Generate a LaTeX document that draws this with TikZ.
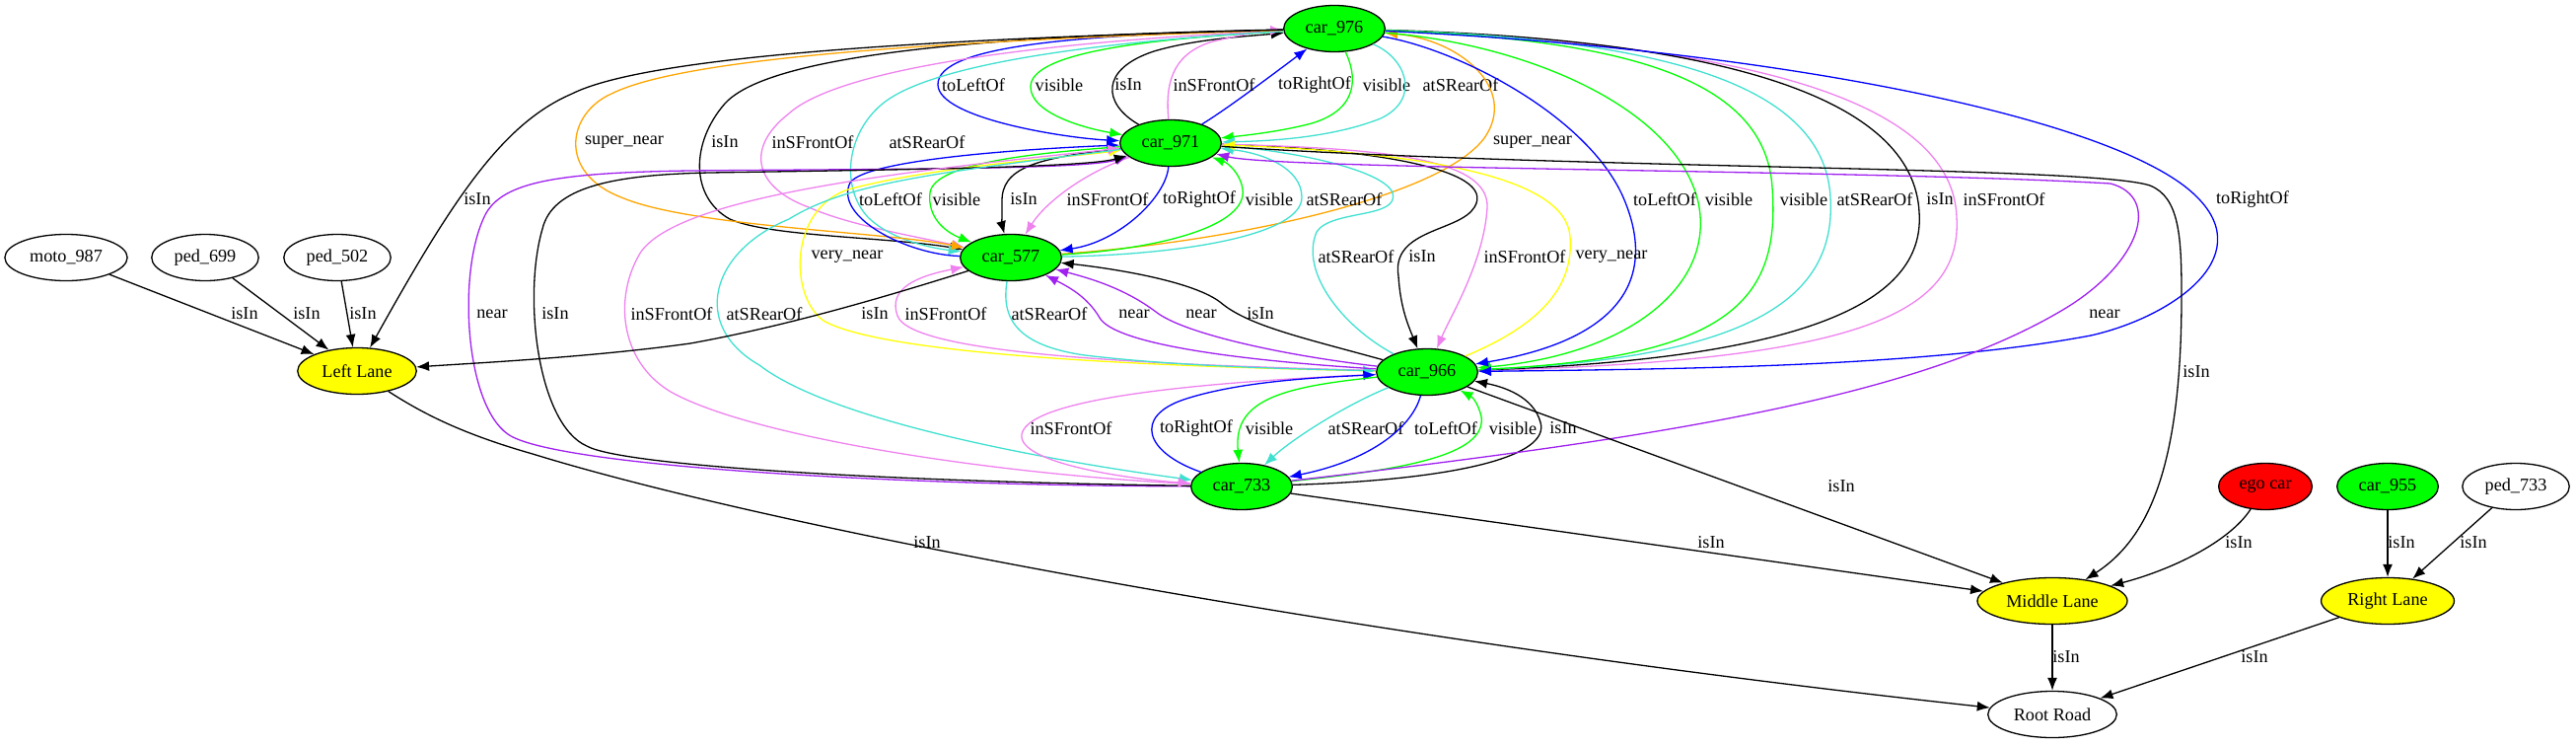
\documentclass[tikz,border=0pt]{standalone}
\usepackage{fontspec}
\setmainfont{Liberation Serif}
\usetikzlibrary{shapes.geometric, arrows.meta}
\definecolor{gvgreen}{HTML}{00FF00}
\definecolor{gvyellow}{HTML}{FFFF00}
\definecolor{gvred}{HTML}{FF0000}
\definecolor{gvblue}{HTML}{0000FF}
\definecolor{gvviolet}{HTML}{EE82EE}
\definecolor{gvturq}{HTML}{40E0D0}
\definecolor{gvorange}{HTML}{FFA500}
\definecolor{gvpurple}{HTML}{A020F0}
\tikzset{
  obj/.style={ellipse, draw, line width=1.3pt, inner xsep=7pt, inner ysep=2pt, minimum height=47pt},
  car/.style={obj, fill=gvgreen},
  lane/.style={obj, fill=gvyellow},
  rel/.style={draw=#1, line width=1.3pt, -{Latex[length=13pt,width=10pt]}},
  rel/.default=black,
  lbl/.style={inner sep=0pt}
}

\begin{document}
\begin{tikzpicture}[x=1pt, y=-1pt, font=\fontsize{18.2}{20}\selectfont]
\useasboundingbox (0,0) rectangle (2612,755);
% objects
\node[obj] (moto) at (67,261) {moto\_987};
\node[obj] (p699) at (208,261) {ped\_699};
\node[obj] (p502) at (342,261) {ped\_502};
\node[lane] (left) at (362,376) {Left Lane};
\node[car] (c976) at (1353,29) {car\_976};
\node[car] (c971) at (1187,145) {car\_971};
\node[car] (c577) at (1025,261) {car\_577};
\node[car] (c966) at (1447,377) {car\_966};
\node[car] (c733) at (1259,493) {car\_733};
\node[lane] (mid) at (2081,609) {Middle Lane};
\node[obj] (root) at (2081,724) {Root Road};
\node[obj, fill=gvred] (ego) at (2297,493) {ego car};
\node[car] (c955) at (2421,493) {car\_955};
\node[obj] (p733) at (2551,493) {ped\_733};
\node[lane] (right) at (2421,609) {Right Lane};

% car_976 -- car_971
\draw[rel=gvblue] (c976) .. controls (1100,35) and (950,45) .. (951,86) .. controls (952,120) and (1080,140) .. (c971) node[lbl] (t1) at (987,86) {toLeftOf};
\draw[rel=gvgreen] (c976) .. controls (1150,40) and (1045,55) .. (1045,88) .. controls (1045,115) and (1100,130) .. (c971) node[lbl] (t2) at (1074,86) {visible};
\draw[rel] (c971) .. controls (1118,105) and (1115,70) .. (1170,52) .. controls (1210,40) and (1260,37) .. (c976) node[lbl] (t3) at (1144,86) {isIn};
\draw[rel=gvblue] (c971) .. controls (1245,110) and (1295,72) .. (c976) node[lbl] (t5) at (1333,86) {toRightOf};
\draw[rel=gvviolet] (c971) .. controls (1182,90) and (1185,55) .. (1230,42) .. controls (1260,35) and (1280,31) .. (c976) node[lbl] (t4) at (1231,86) {inSFrontOf};
\draw[rel=gvgreen] (c976) .. controls (1375,75) and (1380,110) .. (1330,125) .. controls (1300,133) and (1265,137) .. (c971) node[lbl] (t6) at (1406,86) {visible};
\draw[rel=gvturq] (c976) .. controls (1425,58) and (1442,100) .. (1400,120) .. controls (1350,140) and (1285,143) .. (c971) node[lbl] (t7) at (1481,86) {atSRearOf};

% car_976 -- car_577, left side
\draw[rel] (c976) .. controls (1000,36) and (780,55) .. (735,105) .. controls (700,145) and (700,200) .. (740,222) .. controls (780,240) and (900,240) .. (c577) node[lbl] (t9) at (735,144) {isIn};
\draw[rel=gvviolet] (c976) .. controls (1050,42) and (850,70) .. (800,115) .. controls (755,150) and (765,190) .. (820,210) .. controls (860,228) and (930,240) .. (c577) node[lbl] (t10) at (824,144) {inSFrontOf};
\draw[rel=gvturq] (c976) .. controls (1150,40) and (950,60) .. (895,105) .. controls (858,135) and (852,190) .. (880,220) .. controls (905,245) and (950,252) .. (c577) node[lbl] (t11) at (940,144) {atSRearOf};
\draw[rel=gvorange] (c976) .. controls (1000,40) and (700,55) .. (620,95) .. controls (575,115) and (565,175) .. (630,200) .. controls (700,230) and (900,235) .. (c577) node[lbl] (t8) at (633,144) {super\_near};
\draw[rel=gvorange] (c577) .. controls (1250,245) and (1460,200) .. (1505,140) .. controls (1540,90) and (1480,40) .. (c976) node[lbl] (t12) at (1554,144) {super\_near};

% car_976 -- car_966, right side
\draw[rel=gvviolet] (c976) .. controls (1800,45) and (1980,110) .. (1984,220) .. controls (1990,320) and (1880,365) .. (c966) node[lbl] (t18) at (2032,202) {inSFrontOf};
\draw[rel] (c976) .. controls (1750,40) and (1940,100) .. (1946,215) .. controls (1952,300) and (1850,362) .. (c966) node[lbl] (t17) at (1967,202) {isIn};
\draw[rel=gvturq] (c976) .. controls (1700,40) and (1850,90) .. (1856,200) .. controls (1862,300) and (1780,362) .. (c966) node[lbl] (t16) at (1901,202) {atSRearOf};
\draw[rel=gvgreen] (c976) .. controls (1650,40) and (1790,80) .. (1797,190) .. controls (1805,300) and (1760,362) .. (c966) node[lbl] (t15) at (1829,202) {visible};
\draw[rel=gvgreen] (c976) .. controls (1550,45) and (1700,110) .. (1722,205) .. controls (1740,290) and (1650,360) .. (c966) node[lbl] (t14) at (1753,202) {visible};
\draw[rel=gvblue] (c976) .. controls (1480,50) and (1615,120) .. (1648,205) .. controls (1680,285) and (1640,345) .. (c966) node[lbl] (t13) at (1688,202) {toLeftOf};
\draw[rel=gvblue] (c976) .. controls (1800,50) and (2150,120) .. (2228,200) .. controls (2290,262) and (2200,322) .. (2120,340) .. controls (1950,372) and (1700,374) .. (c966) node[lbl] (t19) at (2284,202) {toRightOf};

% car_971 -- car_577
\draw[rel=gvblue] (c577) .. controls (920,258) and (845,220) .. (862,185) .. controls (880,160) and (1060,150) .. (c971) node[lbl] (t20) at (903,202) {toLeftOf};
\draw[rel=gvgreen] (c971) .. controls (1050,155) and (948,165) .. (943,195) .. controls (940,220) and (958,235) .. (c577) node[lbl] (t21) at (970,202) {visible};
\draw[rel] (c971) .. controls (1050,160) and (1015,170) .. (1016,205) .. controls (1016,220) and (1016,228) .. (c577) node[lbl] (t22) at (1038,202) {isIn};
\draw[rel=gvviolet] (c971) .. controls (1100,175) and (1060,205) .. (c577) node[lbl] (t23) at (1123,202) {inSFrontOf};
\draw[rel=gvblue] (c971) .. controls (1182,200) and (1135,245) .. (c577) node[lbl] (t24) at (1216,202) {toRightOf};
\draw[rel=gvgreen] (c577) .. controls (1180,252) and (1265,228) .. (1260,192) .. controls (1258,176) and (1245,165) .. (c971) node[lbl] (t25) at (1287,202) {visible};
\draw[rel=gvturq] (c577) .. controls (1200,258) and (1320,238) .. (1320,200) .. controls (1320,170) and (1280,155) .. (c971) node[lbl] (t26) at (1363,202) {atSRearOf};

% car_971 -- car_966
\draw[rel=gvyellow] (c966) .. controls (1200,372) and (900,362) .. (835,325) .. controls (800,300) and (800,212) .. (860,192) .. controls (950,168) and (1080,160) .. (c971) node[lbl] (t27) at (859,260) {very\_near};
\draw[rel=gvturq] (c966) .. controls (1360,330) and (1318,275) .. (1335,235) .. controls (1350,212) and (1420,222) .. (1412,195) .. controls (1400,170) and (1300,152) .. (c971) node[lbl] (t28) at (1375,260) {atSRearOf};
\draw[rel] (c971) .. controls (1380,150) and (1520,170) .. (1495,210) .. controls (1480,235) and (1410,232) .. (1418,280) .. controls (1420,312) and (1428,330) .. (c966) node[lbl] (t29) at (1442,260) {isIn};
\draw[rel=gvviolet] (c971) .. controls (1400,150) and (1510,160) .. (1508,210) .. controls (1505,265) and (1470,322) .. (c966) node[lbl] (t30) at (1546,260) {inSFrontOf};
\draw[rel=gvyellow] (c966) .. controls (1560,330) and (1596,292) .. (1592,240) .. controls (1588,180) and (1450,155) .. (c971) node[lbl] (t31) at (1634,260) {very\_near};

% car_577 -- car_966
\draw[rel=gvviolet] (c966) .. controls (1200,370) and (925,362) .. (910,320) .. controls (900,292) and (930,280) .. (c577) node[lbl] (t32) at (959,318) {inSFrontOf};
\draw[rel=gvturq] (c577) .. controls (1015,322) and (1030,350) .. (1100,360) .. controls (1200,372) and (1320,374) .. (c966) node[lbl] (t33) at (1064,318) {atSRearOf};
\draw[rel=gvpurple] (c966) .. controls (1250,365) and (1130,348) .. (1115,322) .. controls (1102,300) and (1082,290) .. (c577) node[lbl] (t34) at (1150,318) {near};
\draw[rel=gvpurple] (c966) .. controls (1300,360) and (1200,338) .. (1172,316) .. controls (1140,292) and (1105,282) .. (c577) node[lbl] (t35) at (1218,318) {near};
\draw[rel] (c966) .. controls (1320,342) and (1265,330) .. (1237,306) .. controls (1205,282) and (1110,270) .. (c577) node[lbl] (t36) at (1278,318) {isIn};

% car_733 -- car_971, round the left
\draw[rel=gvpurple] (c733) .. controls (900,492) and (560,472) .. (515,440) .. controls (472,410) and (464,280) .. (490,222) .. controls (505,185) and (560,175) .. (700,173) .. controls (900,171) and (1100,172) .. (c971) node[lbl] (t37) at (499,318) {near};
\draw[rel] (c733) .. controls (900,488) and (630,472) .. (595,452) .. controls (545,430) and (530,300) .. (550,232) .. controls (560,190) and (620,177) .. (720,175) .. controls (900,172) and (1100,170) .. (c971) node[lbl] (t38) at (563,318) {isIn};
\draw[rel=gvviolet] (c733) .. controls (1000,480) and (760,442) .. (680,397) .. controls (628,366) and (622,300) .. (650,255) .. controls (690,200) and (900,175) .. (c971) node[lbl] (t39) at (681,318) {inSFrontOf};
\draw[rel=gvturq] (c971) .. controls (950,175) and (860,185) .. (800,222) .. controls (720,255) and (700,330) .. (770,370) .. controls (850,432) and (1100,472) .. (c733) node[lbl] (t40) at (775,318) {atSRearOf};
\draw[rel=gvviolet] (c966) .. controls (1250,386) and (1044,400) .. (1036,440) .. controls (1031,470) and (1150,486) .. (c733) node[lbl] (t41) at (1086,434) {inSFrontOf};

% car_966 -- car_733
\draw[rel=gvblue] (c733) .. controls (1160,458) and (1150,422) .. (1200,405) .. controls (1260,385) and (1350,382) .. (c966) node[lbl] (t42) at (1213,434) {toRightOf};
\draw[rel=gvgreen] (c966) .. controls (1300,392) and (1250,405) .. (c733) node[lbl] (t43) at (1287,434) {visible};
\draw[rel=gvturq] (c966) .. controls (1365,410) and (1310,445) .. (c733) node[lbl] (t44) at (1385,434) {atSRearOf};
\draw[rel=gvblue] (c966) .. controls (1432,432) and (1392,466) .. (c733) node[lbl] (t45) at (1466,434) {toLeftOf};
\draw[rel=gvgreen] (c733) .. controls (1420,476) and (1508,462) .. (1502,422) .. controls (1499,410) and (1494,403) .. (c966) node[lbl] (t46) at (1534,434) {visible};
\draw[rel] (c733) .. controls (1480,486) and (1572,462) .. (1562,428) .. controls (1555,402) and (1525,392) .. (c966) node[lbl] (t47) at (1585,434) {isIn};
\draw[rel=gvpurple] (c733) .. controls (1700,442) and (1950,400) .. (2095,312) .. controls (2170,266) and (2192,200) .. (2140,186) .. controls (1900,172) and (1300,172) .. (c971) node[lbl] (t48) at (2134,318) {near};

% lanes and road
\draw[rel] (c971) .. controls (1600,172) and (2120,168) .. (2180,188) .. controls (2210,200) and (2212,240) .. (2212,300) .. controls (2212,470) and (2180,545) .. (mid) node[lbl] (t49) at (2227,377) {isIn};
\draw[rel] (moto) -- (left) node[lbl] (t50) at (248,318) {isIn};
\draw[rel] (p699) -- (left) node[lbl] (t51) at (311,318) {isIn};
\draw[rel] (p502) -- (left) node[lbl] (t52) at (368,318) {isIn};
\draw[rel] (c976) .. controls (900,40) and (650,60) .. (580,95) .. controls (510,125) and (460,200) .. (left) node[lbl] (t53) at (484,202) {isIn};
\draw[rel] (c577) .. controls (900,300) and (800,330) .. (700,348) .. controls (600,362) and (480,368) .. (left) node[lbl] (t54) at (887,318) {isIn};
\draw[rel] (left) .. controls (430,420) and (470,440) .. (540,460) .. controls (800,540) and (1400,650) .. (root) node[lbl] (t55) at (940,550) {isIn};
\draw[rel] (c733) -- (mid) node[lbl] (t56) at (1735,550) {isIn};
\draw[rel] (c966) -- (mid) node[lbl] (t57) at (1867,493) {isIn};
\draw[rel] (ego) .. controls (2260,550) and (2200,578) .. (mid) node[lbl] (t58) at (2270,550) {isIn};
\draw[rel] (c955) -- (right) node[lbl] (t59) at (2435,550) {isIn};
\draw[rel] (p733) -- (right) node[lbl] (t60) at (2508,550) {isIn};
\draw[rel] (mid) -- (root) node[lbl] (t61) at (2095,666) {isIn};
\draw[rel] (right) -- (root) node[lbl] (t62) at (2286,666) {isIn};
\end{tikzpicture}
\end{document}
